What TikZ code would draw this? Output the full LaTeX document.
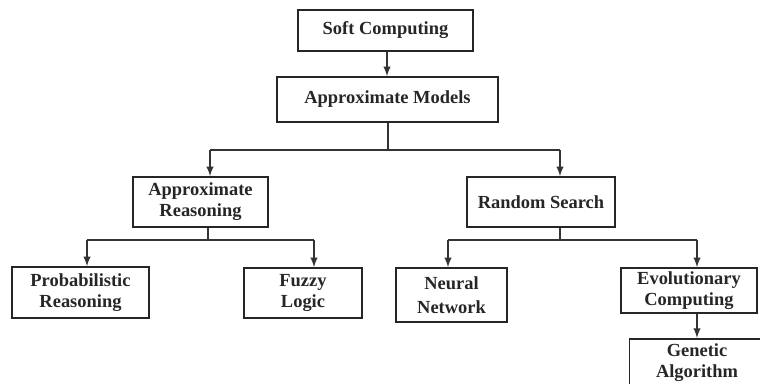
\documentclass[tikz,border=0pt]{standalone}
\usepackage{fontspec}
\setmainfont{Liberation Serif}
\usepackage{tikz}
\usetikzlibrary{arrows}
\tikzstyle{box}=[rectangle, draw=black!85, line width=0.9pt, fill=white, align=center,
        inner sep=1pt, font=\bfseries\fontsize{10.5}{12}\selectfont, text=black!85]
\tikzstyle{link}=[draw=black!80, line width=0.9pt]
\tikzstyle{arr}=[link, -latex]

\begin{document}
\begin{tikzpicture}[x=0.02cm, y=-0.02cm]
\useasboundingbox (0,0) rectangle (760,383);
\node [box, minimum width=3.5cm, minimum height=0.82cm] (soft) at (385.5,30.5) {Soft Computing};
\node [box, minimum width=4.42cm, minimum height=0.9cm] (models) at (387.5,99.5) {Approximate Models};
\node [box, minimum width=2.7cm, minimum height=1cm] (reason) at (200.5,202) {Approximate\\Reasoning};
\node [box, minimum width=2.96cm, minimum height=1cm] (random) at (541,202) {Random Search};
\node [box, minimum width=2.74cm, minimum height=1.02cm] (prob) at (80.5,292.5) {Probabilistic\\Reasoning};
\node [box, minimum width=2.36cm, minimum height=1cm] (fuzzy) at (303,293) {Fuzzy\\Logic};
\node [box, minimum width=2.22cm, minimum height=1.08cm] (neural) at (451.5,295) {Neural\\[2pt]Network};
\node [box, minimum width=2.72cm, minimum height=0.9cm] (evol) at (689,290.5) {Evolutionary\\Computing};
\node [box, minimum width=2.7cm, minimum height=0.95cm] (genetic) at (697,362.5) {Genetic\\Algorithm};

\coordinate (j0) at (387,0);
\coordinate (j1) at (388,150);
\coordinate (l1) at (210,150);
\coordinate (r1) at (560,150);
\coordinate (j2) at (208,240);
\coordinate (l2) at (87,240);
\coordinate (r2) at (314,240);
\coordinate (j3) at (560,240);
\coordinate (l3) at (448,240);
\coordinate (r3) at (697,240);

\draw [arr] (soft.south -| j0) -- (models.north -| j0);
\draw [link] (models.south -| j1) -- (j1);
\draw [link] (l1) -- (r1);
\draw [arr] (l1) -- (l1 |- reason.north);
\draw [arr] (r1) -- (r1 |- random.north);
\draw [link] (j2 |- reason.south) -- (j2);
\draw [link] (l2) -- (r2);
\draw [arr] (l2) -- (l2 |- prob.north);
\draw [arr] (r2) -- (r2 |- fuzzy.north);
\draw [link] (random.south -| j3) -- (j3);
\draw [link] (l3) -- (r3);
\draw [arr] (l3) -- (l3 |- neural.north);
\draw [arr] (r3) -- (r3 |- evol.north);
\draw [arr] (evol.south -| r3) -- (r3 |- genetic.north);
\end{tikzpicture}
\end{document}
